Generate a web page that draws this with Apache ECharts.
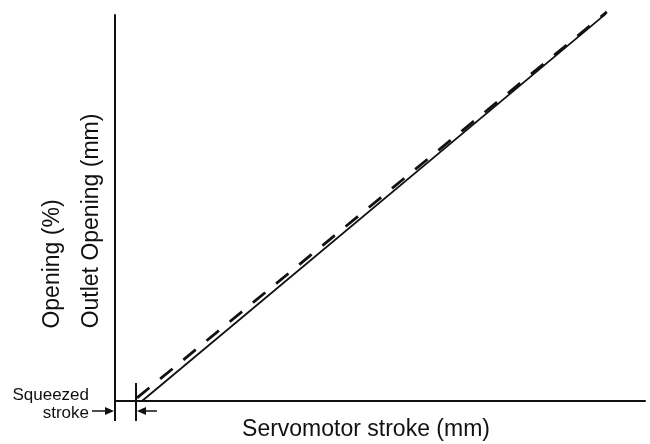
<!DOCTYPE html>
<html>
<head>
<meta charset="utf-8">
<script src="https://cdn.jsdelivr.net/npm/echarts@6/dist/echarts.min.js"></script>
<style>
  html, body { margin: 0; padding: 0; background: #fff; }
  #chart { width: 650px; height: 444px; }
</style>
</head>
<body>
<div id="chart"></div>
<script>
// servomotor stroke (relative units, no ticks in the original)
var strokeSolid = [5.1, 92.6];
var openSolid = [0, 100.3];
var strokeDashed = [4.15, 92.8];
var openDashed = [0.8, 100.8];
// end of the squeezed stroke on the stroke axis
var squeezeEnd = 3.96;

var labelY1 = 'Opening (%)';
var labelY2 = 'Outlet Opening (mm)';
var labelX = 'Servomotor stroke (mm)';
var squeezeLabel = ['Squeezed', 'stroke'];

function pairs(xs, ys) {
    var out = [];
    for (var i = 0; i < xs.length; i++) {
        out.push([xs[i], ys[i]]);
    }
    return out;
}

var font = '"Liberation Sans", Arial, sans-serif';
var ink = '#111';

var myChart = echarts.init(document.getElementById('chart'));
var axisCommon = {
    type: 'value',
    min: 0,
    max: 100,
    axisLine: { show: true, lineStyle: { color: ink, width: 2 } },
    axisTick: { show: false },
    axisLabel: { show: false },
    splitLine: { show: false }
};
option = {
    animation: false,
    grid: { left: 115, right: 5, top: 15, bottom: 43 },
    xAxis: axisCommon,
    yAxis: axisCommon,
    series: [
        {
            type: 'line',
            data: pairs(strokeSolid, openSolid),
            symbol: 'none',
            clip: false,
            lineStyle: { color: ink, width: 1.8 }
        },
        {
            type: 'line',
            data: pairs(strokeDashed, openDashed),
            symbol: 'none',
            clip: false,
            lineStyle: { color: ink, width: 2.8, type: [16, 14] }
        }
    ]
};
myChart.setOption(option);

// annotations placed from the axes
var origin = myChart.convertToPixel({ gridIndex: 0 }, [0, 0]);
var tick = myChart.convertToPixel({ gridIndex: 0 }, [squeezeEnd, 0]);
var x0 = origin[0], y0 = origin[1], xt = tick[0];
var ay = y0 + 10;

function seg(x1, y1, x2, y2, w) {
    return { type: 'line', shape: { x1: x1, y1: y1, x2: x2, y2: y2 },
        style: { stroke: ink, lineWidth: w || 1.5 } };
}
function head(x, y, dir) {
    return { type: 'polygon', shape: { points: [[x, y], [x - dir * 9, y - 4], [x - dir * 9, y + 4]] },
        style: { fill: ink } };
}
function vtext(txt, x, y) {
    return { type: 'text', x: x, y: y, rotation: Math.PI / 2,
        style: { text: txt, font: '23px ' + font, fill: ink, textAlign: 'center', textVerticalAlign: 'middle' } };
}

myChart.setOption({
    graphic: [
        seg(x0, y0, x0, y0 + 20, 2),
        seg(xt, y0 - 18, xt, y0 + 20, 2),
        seg(x0 - 23, ay, x0 - 3, ay),
        head(x0 - 1, ay, 1),
        seg(xt + 21, ay, xt + 3, ay),
        head(xt + 1, ay, -1),
        vtext(labelY1, 53, 264),
        vtext(labelY2, 92, 221),
        { type: 'text', x: 366, y: 430,
          style: { text: labelX, font: '23px ' + font, fill: ink, textAlign: 'center', textVerticalAlign: 'middle' } },
        { type: 'text', x: 89, y: 395,
          style: { text: squeezeLabel[0], font: '17px ' + font, fill: ink, textAlign: 'right', textVerticalAlign: 'middle' } },
        { type: 'text', x: 89, y: 413,
          style: { text: squeezeLabel[1], font: '17px ' + font, fill: ink, textAlign: 'right', textVerticalAlign: 'middle' } }
    ]
});
</script>
</body>
</html>
